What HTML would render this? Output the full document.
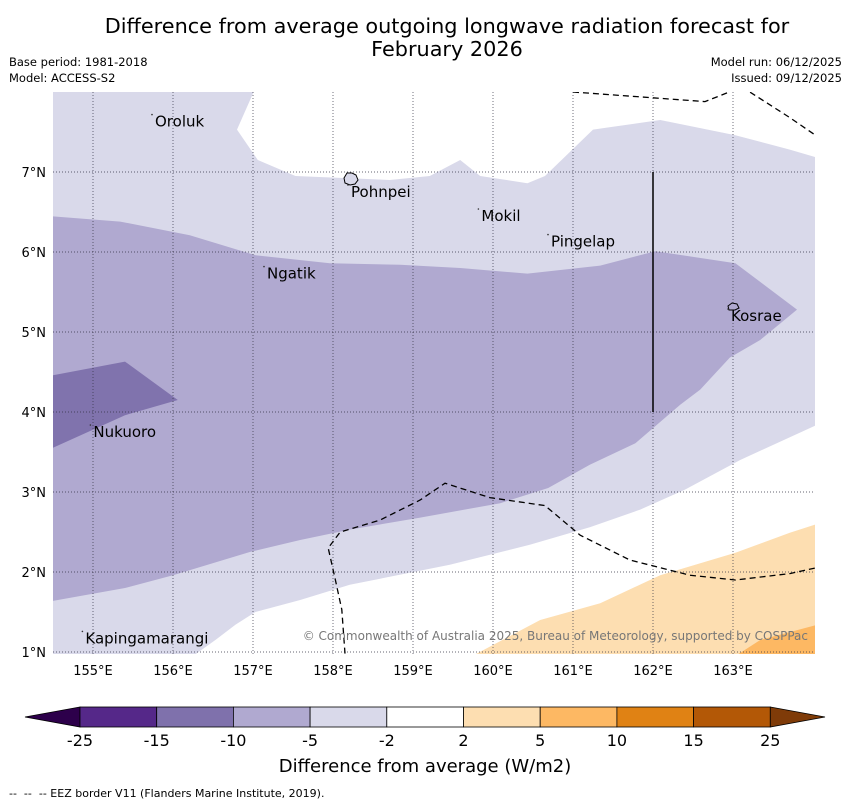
<!DOCTYPE html>
<html><head><meta charset="utf-8"><style>
body{margin:0;background:#fff;width:850px;height:804px;overflow:hidden;font-family:"Liberation Sans","DejaVu Sans",sans-serif;}
svg text{font-family:"DejaVu Sans","Liberation Sans",sans-serif;}
</style></head><body>
<svg id="chart" width="850" height="804" xmlns="http://www.w3.org/2000/svg">
<text x="447" y="33" font-size="20.8" text-anchor="middle">Difference from average outgoing longwave radiation forecast for</text>
<text x="447" y="56" font-size="20.8" text-anchor="middle">February 2026</text>
<text x="9" y="66" font-size="11.5">Base period: 1981-2018</text>
<text x="9" y="82" font-size="11.5">Model: ACCESS-S2</text>
<text x="842" y="66" font-size="11.5" text-anchor="end">Model run: 06/12/2025</text>
<text x="842" y="82" font-size="11.5" text-anchor="end">Issued: 09/12/2025</text>
<defs><clipPath id="mc"><rect x="53" y="92" width="762" height="562"/></clipPath></defs>
<g id="map" clip-path="url(#mc)"></g>
<g id="over"></g>
<text x="808" y="640" font-size="12" fill="#777" text-anchor="end">© Commonwealth of Australia 2025, Bureau of Meteorology, supported by COSPPac</text>
<g id="cbar"></g>
<text x="425" y="772" font-size="18" text-anchor="middle">Difference from average (W/m2)</text>
<text x="9" y="797" font-size="11" xml:space="preserve">--  --  -- EEZ border V11 (Flanders Marine Institute, 2019).</text>
</svg>
<script>
const lonTicks=[155,156,157,158,159,160,161,162,163];
const latTicks=[1,2,3,4,5,6,7];
const regionLight=[[154.5,8.05],[157.03,8.05],[156.8,7.53],[157.06,7.15],[157.53,6.95],[158.71,6.9],[159.21,6.95],[159.59,7.15],[159.84,6.95],[160.43,6.86],[160.65,6.95],[161.25,7.53],[162.09,7.65],[163.03,7.46],[163.71,7.28],[164.05,7.18],[164.05,3.84],[163.09,3.4],[162.4,3.03],[161.84,2.78],[161.21,2.56],[160.46,2.34],[159.46,2.09],[158.21,1.84],[157.59,1.65],[157.03,1.5],[156.78,1.34],[156.53,1.15],[156.25,0.95],[154.45,0.95]];
const regionMedium=[[154.45,6.45],[155.34,6.38],[156.21,6.21],[157.03,5.96],[157.96,5.86],[158.84,5.84],[159.59,5.8],[160.43,5.73],[161.34,5.83],[162.03,6.01],[163.03,5.86],[163.8,5.28],[163.34,4.9],[162.96,4.68],[162.59,4.28],[162.34,4.09],[161.78,3.61],[161.21,3.34],[160.69,3.05],[160.09,2.86],[159.09,2.68],[158.21,2.53],[157.59,2.4],[156.96,2.25],[156.0,1.96],[155.4,1.8],[154.45,1.63]];
const regionDark=[[154.45,4.45],[155.4,4.63],[156.06,4.15],[155.4,3.96],[154.45,3.53]];
const regionOrange1=[[159.74,0.95],[160.59,1.4],[161.34,1.61],[162.09,1.96],[163.03,2.24],[163.71,2.49],[164.05,2.6],[164.05,0.95]];
const regionOrange2=[[163.03,0.95],[163.34,1.15],[164.05,1.34],[164.05,0.95]];
const eezTop=[[161.0,8.0],[162.65,7.88],[163.03,8.03],[163.21,8.0],[163.71,7.68],[164.03,7.46]];
const eezBottom=[[158.15,0.98],[158.11,1.53],[158.03,1.9],[157.94,2.3],[158.09,2.5],[158.59,2.65],[159.09,2.9],[159.4,3.11],[159.96,2.93],[160.65,2.83],[161.09,2.46],[161.71,2.15],[162.46,1.96],[163.03,1.9],[163.71,1.98],[164.03,2.05]];
const islandNames=["Oroluk","Pohnpei","Mokil","Pingelap","Ngatik","Kosrae","Nukuoro","Kapingamarangi"];
const islandLon=[155.75,158.2,159.83,160.7,157.15,162.95,154.98,154.88];
const islandLat=[7.73,6.85,6.55,6.23,5.83,5.3,3.85,1.27];
const cbLabels=["-25","-15","-10","-5","-2","2","5","10","15","25"];
const cbColors=["#552889","#7f71ac","#b0a9d0","#d9d9ea","#ffffff","#fddeb1","#fdb863","#e08214","#b35806"];
const xs=l=>53+(l-154.5)*80, ys=l=>92+(8-l)*80;
const NS="http://www.w3.org/2000/svg";
function mk(tag,attrs,parent){const e=document.createElementNS(NS,tag);for(const k in attrs)e.setAttribute(k,attrs[k]);parent.appendChild(e);return e;}
const map=document.getElementById('map'), over=document.getElementById('over'), cb=document.getElementById('cbar');
const pts=a=>a.map(p=>xs(p[0]).toFixed(1)+','+ys(p[1]).toFixed(1)).join(' ');
const bg=mk('rect',{x:53,y:92,width:762,height:562,fill:'#fff'},map);


[[regionLight,'#d9d9ea','region-minus5-to-minus2'],[regionMedium,'#b0a9d0','region-minus10-to-minus5'],[regionDark,'#8073ad','region-minus15-to-minus10'],[regionOrange1,'#fddeb1','region-2-to-5'],[regionOrange2,'#fdb863','region-5-to-10']].forEach(r=>{
 const p=mk('polygon',{points:pts(r[0]),fill:r[1]},map);
 
 
});
lonTicks.forEach(l=>{
 const g=mk('line',{x1:xs(l),x2:xs(l),y1:92,y2:654,stroke:'#334','stroke-width':0.7,'stroke-dasharray':'1,2'},map);
 
 
 const t=mk('text',{x:xs(l),y:675,'font-size':13,'text-anchor':'middle'},over);t.textContent=l+'°E';
 
 
});
latTicks.forEach(l=>{
 const g=mk('line',{x1:53,x2:815,y1:ys(l),y2:ys(l),stroke:'#334','stroke-width':0.7,'stroke-dasharray':'1,2'},map);
 
 
 const t=mk('text',{x:46,y:ys(l)+5,'font-size':13,'text-anchor':'end'},over);t.textContent=l+'°N';
 
 
});
[eezTop,eezBottom].forEach(e=>{
 const p=mk('polyline',{points:pts(e),fill:'none',stroke:'#000','stroke-width':1.3,'stroke-dasharray':'6,4'},map);
 
 
});
const vl=mk('line',{x1:xs(162),x2:xs(162),y1:ys(7),y2:ys(4),stroke:'#000','stroke-width':1.5},map);


const pohn=mk('path',{d:'M344,178 l3,-5 5,0 4,2 2,5 -3,4 -5,1 -5,-2z',fill:'#d9d9ea',stroke:'#000','stroke-width':1},map);


const kos=mk('path',{d:'M728,306 l4,-3 5,1 2,4 -4,2 -6,0z',fill:'#b0a9d0',stroke:'#000','stroke-width':1},map);


islandNames.forEach((n,i)=>{
 const d=mk('circle',{cx:xs(islandLon[i])-1,cy:ys(islandLat[i])+1,r:0.8,fill:'#333'},over);
 
 
 const t=mk('text',{x:xs(islandLon[i])+2,y:ys(islandLat[i])+13,'font-size':15},over);t.textContent=n;
 
 
});
const cx0=80,cw=76.7,cy=707,ch=20;
const la=mk('polygon',{points:`${cx0},${cy} 25,${cy+ch/2} ${cx0},${cy+ch}`,fill:'#2d004b',stroke:'#000','stroke-width':0.8},cb);


cbColors.forEach((c,i)=>{
 const r=mk('rect',{x:cx0+i*cw,y:cy,width:cw,height:ch,fill:c,stroke:'#000','stroke-width':0.8},cb);
 
 
});
const xe=cx0+cbColors.length*cw;
const ra=mk('polygon',{points:`${xe},${cy} 825,${cy+ch/2} ${xe},${cy+ch}`,fill:'#7f3b08',stroke:'#000','stroke-width':0.8},cb);


cbLabels.forEach((l,i)=>{
 const t=mk('text',{x:cx0+i*cw,y:746,'font-size':16,'text-anchor':'middle'},cb);t.textContent=l;
 
 
});
</script>
</body></html>
